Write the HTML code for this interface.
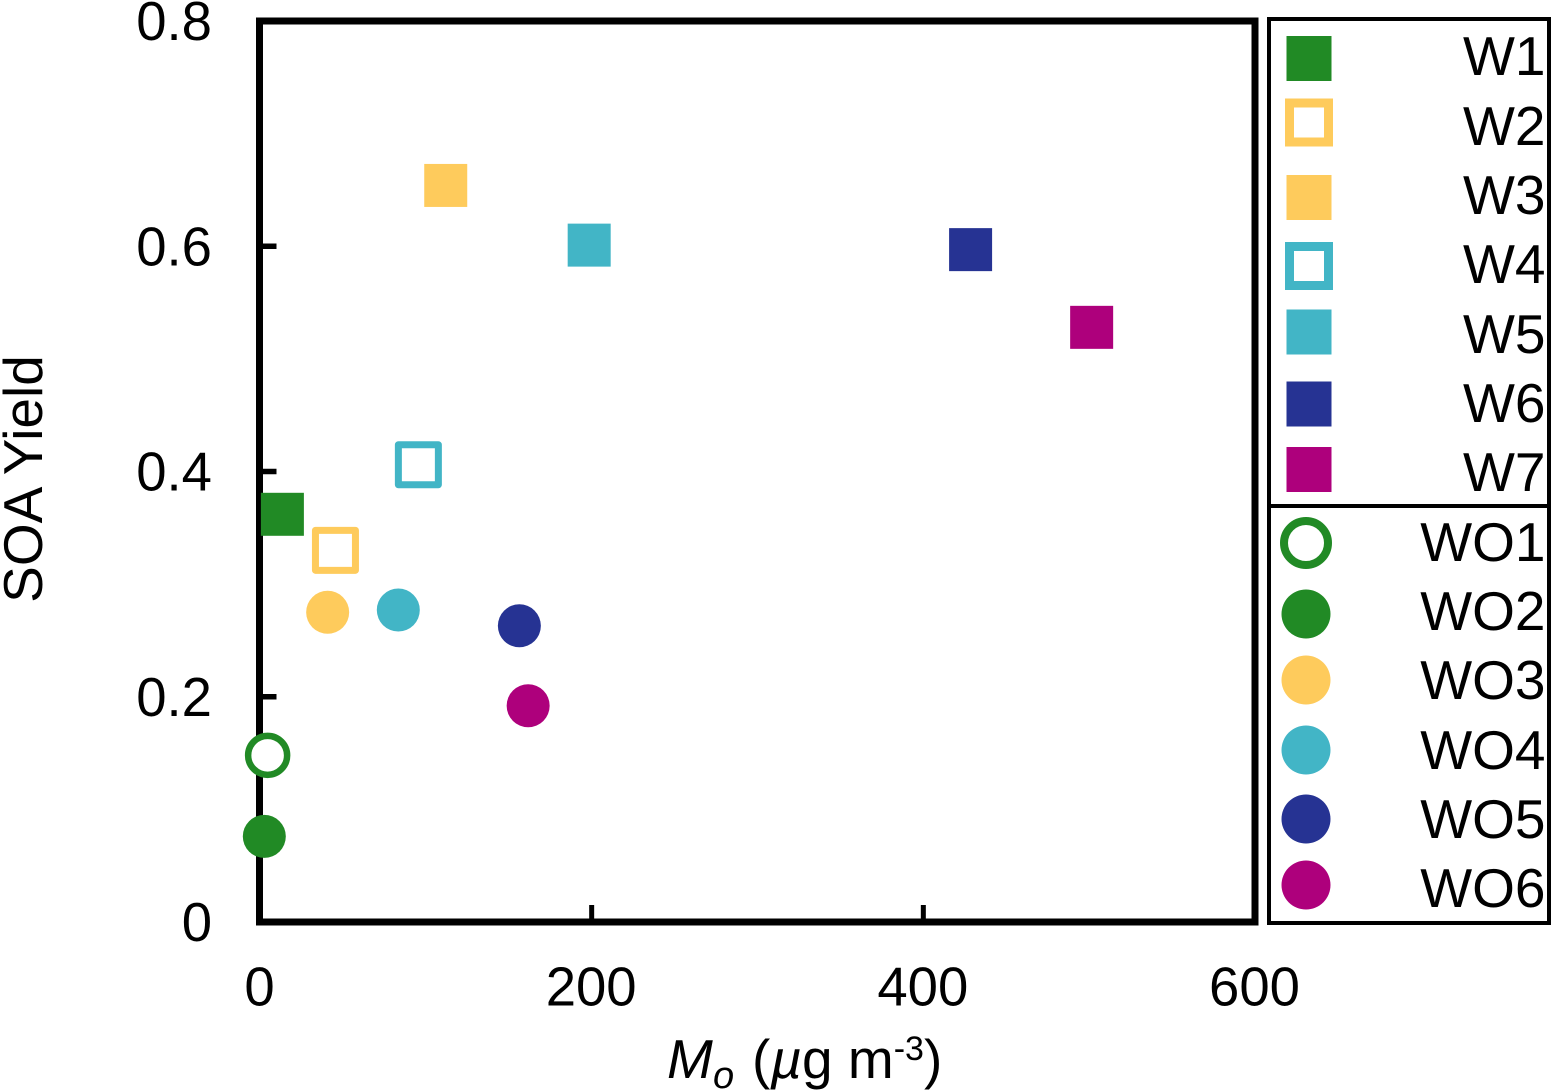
<!DOCTYPE html>
<html>
<head>
<meta charset="utf-8">
<style>
html,body{margin:0;padding:0;background:#fff;}
svg{display:block;}
text{font-family:"Liberation Sans",sans-serif;fill:#000;}
</style>
</head>
<body>
<svg id="chart" xmlns="http://www.w3.org/2000/svg" width="1551" height="1091" viewBox="0 0 1551 1091">
<rect x="259.5" y="21" width="995.5" height="901" fill="none" stroke="#000" stroke-width="7"/>
<rect x="1269" y="19" width="280" height="904" fill="none" stroke="#000" stroke-width="4"/>
<line x1="1269" y1="506" x2="1549" y2="506" stroke="#000" stroke-width="4"/>
<text transform="translate(42,479) rotate(-90)" text-anchor="middle" font-size="55">SOA Yield</text>
<text y="1078" font-size="55"><tspan x="667" font-style="italic">M</tspan><tspan x="713" y="1088" font-style="italic" font-size="38">o</tspan><tspan x="752" y="1078">(</tspan><tspan font-style="italic">µ</tspan><tspan>g m</tspan><tspan font-size="34" y="1060">-3</tspan><tspan y="1078">)</tspan></text>
<g id="axes"></g>
<g id="marks"></g>
<g id="legend"></g>
</svg>
<script>
const xTicks = [0, 200, 400, 600];
const xTickLabels = ["0", "200", "400", "600"];
const yTicks = [0, 0.2, 0.4, 0.6, 0.8];
const yTickLabels = ["0", "0.2", "0.4", "0.6", "0.8"];
const seriesNames = ["W1","W2","W3","W4","W5","W6","W7","WO1","WO2","WO3","WO4","WO5","WO6"];
const seriesX = [13.5, 45.5, 112, 95.5, 198.5, 428.5, 501.5, 4.6, 2.6, 40.8, 83.4, 156.4, 161.7];
const seriesY = [0.362, 0.33, 0.654, 0.406, 0.601, 0.597, 0.528, 0.148, 0.076, 0.275, 0.277, 0.263, 0.192];
const seriesColors = ["#218a25","#fecb5c","#fecb5c","#42b5c6","#42b5c6","#263393","#ae007c","#218a25","#218a25","#fecb5c","#42b5c6","#263393","#ae007c"];
const seriesShapes = ["square","square-open","square","square-open","square","square","square","circle-open","circle","circle","circle","circle","circle"];

const NS = "http://www.w3.org/2000/svg";
const xScale = v => 260 + v * (1255 - 260) / 600;
const yScale = v => 922 - v * (922 - 21) / 0.8;

function make(tag, parent, attrs) {
  const el = document.createElementNS(NS, tag);
  for (const k in attrs) el.setAttribute(k, attrs[k]);
  parent.appendChild(el);
  return el;
}

function drawMarker(parent, shape, color, cx, cy, name, big) {
  const solidHalf = big ? 22.5 : 21.5;
  const circleR = big ? 24.5 : 21.5;
  const sw = big ? 9 : 7;
  const openHalf = big ? 19.5 : 20;
  const ringR = big ? 22 : 19.5;
  const ringW = big ? 8 : 6.5;
  let el;
  if (shape === "square") {
    el = make("rect", parent, {x: cx - solidHalf, y: cy - solidHalf, width: solidHalf * 2, height: solidHalf * 2, fill: color});
  } else if (shape === "square-open") {
    el = make("rect", parent, {x: cx - openHalf, y: cy - openHalf, width: openHalf * 2, height: openHalf * 2, fill: "#fff", stroke: color, "stroke-width": sw, "stroke-linejoin": big ? "miter" : "round"});
  } else if (shape === "circle") {
    el = make("circle", parent, {cx: cx, cy: cy, r: circleR, fill: color});
  } else {
    el = make("circle", parent, {cx: cx, cy: cy, r: ringR, fill: "#fff", stroke: color, "stroke-width": ringW});
  }
  
  
}

const axes = document.getElementById("axes");
xTicks.forEach((t, i) => {
  if (t > 0 && t < 600) {
    const tick = make("line", axes, {x1: xScale(t), x2: xScale(t), y1: 922, y2: 905, stroke: "#000", "stroke-width": 5});
    
    
  }
  const label = make("text", axes, {x: xScale(t) - 0.5, y: 1005.5, "text-anchor": "middle", "font-size": 54.5});
  label.textContent = xTickLabels[i];
  
  
});
yTicks.forEach((t, i) => {
  if (t > 0 && t < 0.8) {
    const tick = make("line", axes, {x1: 260, x2: 276.5, y1: yScale(t), y2: yScale(t), stroke: "#000", "stroke-width": 5.5});
    
    
  }
  const label = make("text", axes, {x: 212, y: yScale(t) + 19, "text-anchor": "end", "font-size": 54.5});
  label.textContent = yTickLabels[i];
  
  
});

const marks = document.getElementById("marks");
seriesNames.forEach((n, i) => {
  drawMarker(marks, seriesShapes[i], seriesColors[i], xScale(seriesX[i]), yScale(seriesY[i]), 'point-' + n.toLowerCase(), false);
});

const legendMarkerRows = [58.5, 122.5, 197.5, 266, 332, 404, 469.5, 543, 614, 680, 750, 819, 885];
const legendTextRows = [75, 145, 214, 283, 353, 422, 491, 561, 630, 699, 769, 838, 907];
const legend = document.getElementById("legend");
seriesNames.forEach((n, i) => {
  const isCircle = seriesShapes[i].indexOf("circle") === 0;
  drawMarker(legend, seriesShapes[i], seriesColors[i], isCircle ? 1306 : 1309, legendMarkerRows[i], 'legend-marker-' + n.toLowerCase(), true);
  const label = make("text", legend, {x: 1545.5, y: legendTextRows[i], "text-anchor": "end", "font-size": 55});
  label.textContent = n;
  
  
});
</script>
</body>
</html>
